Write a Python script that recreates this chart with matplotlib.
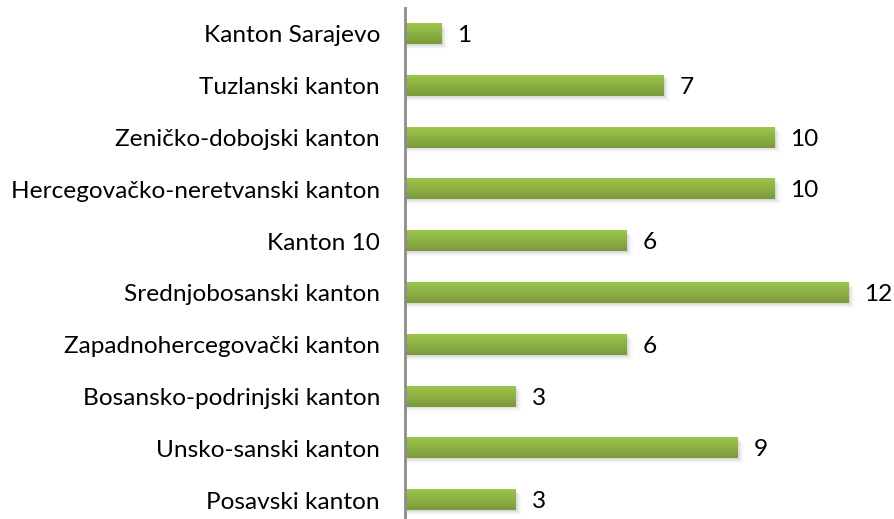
import numpy as np
import matplotlib

matplotlib.use("Agg")
import matplotlib.pyplot as plt
from matplotlib.colors import LinearSegmentedColormap

# podaci (odozgo prema dolje)
cantons = ['Kanton Sarajevo', 'Tuzlanski kanton', 'Zeničko-dobojski kanton',
           'Hercegovačko-neretvanski kanton', 'Kanton 10', 'Srednjobosanski kanton',
           'Zapadnohercegovački kanton', 'Bosansko-podrinjski kanton',
           'Unsko-sanski kanton', 'Posavski kanton']
counts = [1, 7, 10, 10, 6, 12, 6, 3, 9, 3]

plt.rcParams['font.family'] = ['Lato', 'DejaVu Sans']

W, H = 894, 519
fig = plt.figure(figsize=(W / 100, H / 100), dpi=100)
# osa: lijevo na 405 px, vrh na 8 px, visina 518 px
ax = fig.add_axes([405 / W, (H - 8 - 518) / H, (W - 405) / W, 518 / H])

n = len(cantons)
y = np.arange(n)[::-1]
bar_h = 0.39
green = LinearSegmentedColormap.from_list('g', ['#7b9a3b', '#9dc64c'])
grad = np.linspace(0, 1, 64).reshape(-1, 1)

for yi, v in zip(y, counts):
    # sjena
    for k, a in enumerate([0.04, 0.04, 0.03, 0.025, 0.02]):
        off = 0.015 + k * 0.02
        ax.barh(yi - off, v + 0.03 * (k + 1), height=bar_h, left=0,
                color='black', alpha=a, linewidth=0, zorder=1)
    # gradijent
    ax.imshow(grad, cmap=green, aspect='auto', origin='lower',
              extent=(0, v, yi - bar_h / 2, yi + bar_h / 2), zorder=2,
              interpolation='bilinear')
    ax.text(v + 0.42, yi - 0.03, str(v), va='center', ha='left', fontsize=17.6, zorder=3)

ax.set_xlim(0, (W - 405) / 37)
ax.set_ylim(-0.5, n - 0.5)
ax.set_yticks(y)
ax.set_yticklabels(cantons, fontsize=17.6)
ax.tick_params(axis='y', length=0, pad=18)
ax.set_xticks([])
for s in ['top', 'right', 'bottom']:
    ax.spines[s].set_visible(False)
ax.spines['left'].set_color('#8c8c8c')
ax.spines['left'].set_linewidth(2)
ax.spines['left'].set_zorder(4)

fig.savefig('out.png', dpi=100)
